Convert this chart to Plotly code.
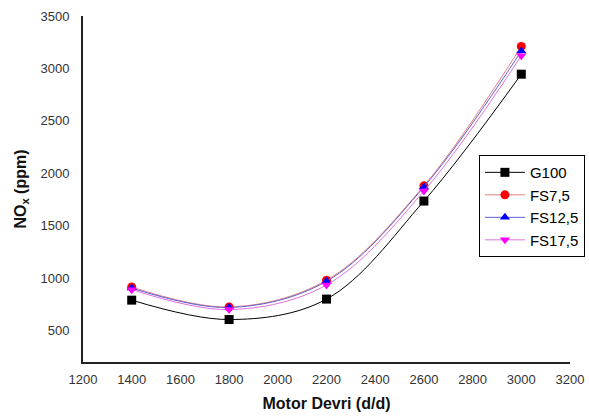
import plotly.graph_objects as go

rpm = [1400, 1800, 2200, 2600, 3000]
g100 = [790, 605, 800, 1735, 2945]
fs75 = [915, 725, 980, 1880, 3210]
fs125 = [905, 720, 970, 1870, 3165]
fs175 = [890, 700, 935, 1830, 3120]
x_ticks = [1200, 1400, 1600, 1800, 2000, 2200, 2400, 2600, 2800, 3000, 3200]
y_ticks = [500, 1000, 1500, 2000, 2500, 3000, 3500]

series = [
    ("G100", g100, "black", "black", "square"),
    ("FS7,5", fs75, "#e08080", "red", "circle"),
    ("FS12,5", fs125, "#6060d0", "blue", "triangle-up"),
    ("FS17,5", fs175, "#e070e0", "magenta", "triangle-down"),
]

fig = go.Figure()
for name, ys, lc, mc, sym in series:
    fig.add_trace(go.Scatter(
        x=rpm, y=ys, name=name, mode="lines+markers",
        line=dict(color=lc, width=1, shape="spline", smoothing=1.0),
        marker=dict(color=mc, symbol=sym, size=9),
    ))

font = "Liberation Sans, Arial, sans-serif"
fig.update_layout(
    width=589, height=416,
    margin=dict(l=83, r=19, t=16, b=54, autoexpand=False),
    paper_bgcolor="white", plot_bgcolor="white",
    font=dict(family=font, size=13, color="#333"),
    showlegend=True,
    legend=dict(x=0.813, y=0.598, xanchor="left", yanchor="top",
                bordercolor="black", borderwidth=1, bgcolor="white",
                font=dict(size=15, color="black"), tracegroupgap=0,
                itemwidth=40),
    xaxis=dict(range=[1200, 3200], tickvals=x_ticks, showgrid=False, zeroline=False,
               showline=True, linecolor="#222", linewidth=2, ticks="",
               ticklabelstandoff=4,
               title=dict(text="<b>Motor Devri (d/d)</b>", font=dict(size=16, color="#111"), standoff=12)),
    yaxis=dict(range=[200, 3500], tickvals=y_ticks, showgrid=False, zeroline=False,
               showline=True, linecolor="#222", linewidth=2, ticks="",
               ticklabelstandoff=9,
               title=dict(text="<b>NO<sub>x</sub> (ppm)</b>", font=dict(size=16, color="#111"), standoff=10)),
)
fig.write_html("out.html")
